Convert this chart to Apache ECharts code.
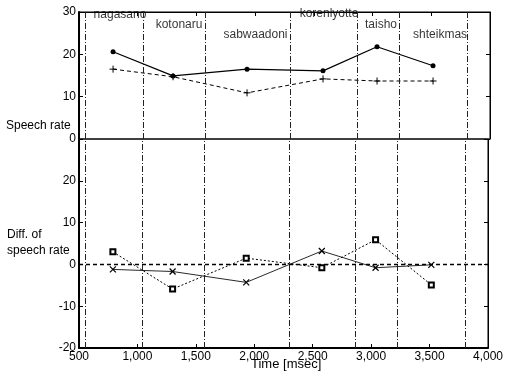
<!DOCTYPE html>
<html>
<head>
<meta charset="utf-8">
<script src="https://cdn.jsdelivr.net/npm/echarts@6/dist/echarts.min.js"></script>
<style>
html,body{margin:0;padding:0;background:#fff;}
#chart{width:506px;height:376px;}
</style>
</head>
<body>
<div id="chart"></div>
<script>
// ---- data ----
var times = [790, 1301, 1931, 2578, 3038, 3515];
var rateSolid = [20.6, 14.9, 16.5, 16.1, 21.8, 17.3];
var rateDashed = [16.5, 14.7, 10.9, 14.2, 13.7, 13.7];
var diffCross = [-1.2, -1.7, -4.3, 3.2, -0.8, -0.1];
var diffSquare = [3.0, -5.9, 1.5, -0.8, 5.9, -4.9];
var boundaries = [551, 1045, 1573, 2297, 2868, 3226, 3805];
var words = ['nagasano', 'kotonaru', 'sabwaadoni', 'korenlyotte', 'taisho', 'shteikmas'];
var wordX = [849, 1352, 2003, 2629, 3072, 3575];
var wordY = [29.4, 27.0, 24.6, 29.7, 27.0, 24.6];
var xTicks = [500, 1000, 1500, 2000, 2500, 3000, 3500, 4000];
var topTicks = [0, 10, 20, 30];
var bottomTicks = [-20, -10, 0, 10, 20, 30];

var FONT = 'Liberation Sans, Arial, sans-serif';
var chart = echarts.init(document.getElementById('chart'), null, {renderer: 'canvas'});

function pairs(xs, ys) { return xs.map(function (x, i) { return [x, ys[i]]; }); }
var plusSym = 'path://M0,5 L10,5 M5,0 L5,10';
var crossSym = 'path://M0,0 L10,10 M10,0 L0,10';
var vLines = boundaries.map(function (b) { return {xAxis: b}; });
var vLineStyle = {color: '#222', width: 1, type: [6, 2, 1, 2]};

function yAx(grid, min, max, pos, showLabel, hideTop) {
  return {
    type: 'value', gridIndex: grid, min: min, max: max, interval: 10, position: pos,
    axisLine: {show: true, lineStyle: {color: '#000', width: pos === 'left' ? 2 : 1}},
    axisTick: {show: true, inside: true, length: 4, lineStyle: {color: '#000'}},
    axisLabel: {show: showLabel, color: '#000', fontSize: 12, fontFamily: FONT, margin: 3,
      formatter: function (v) { return (hideTop && v === max) ? '' : String(v); }},
    splitLine: {show: false}
  };
}
function xAx(grid, pos, showLabel) {
  return {
    type: 'value', gridIndex: grid, min: xTicks[0], max: xTicks[xTicks.length - 1], interval: 500, position: pos,
    axisLine: {show: true, onZero: false, lineStyle: {color: '#000', width: pos === 'bottom' ? 2 : 1}},
    axisTick: {show: true, inside: true, length: 4, lineStyle: {color: '#000'}},
    axisLabel: {show: showLabel, color: '#000', fontSize: 12, fontFamily: FONT, margin: 3},
    splitLine: {show: false}
  };
}

var option = {
  animation: false,
  backgroundColor: '#fff',
  grid: [
    {left: 79, right: 16, top: 12, height: 127, show: true, borderColor: '#000', borderWidth: 1},
    {left: 79, right: 16, top: 139, bottom: 28, show: true, borderColor: '#000', borderWidth: 1}
  ],
  xAxis: [xAx(0, 'top', false), xAx(1, 'bottom', true)],
  yAxis: [
    yAx(0, 0, 30, 'left', true, false),
    yAx(0, 0, 30, 'right', false, false),
    yAx(1, -20, 30, 'left', true, true),
    yAx(1, -20, 30, 'right', false, true)
  ],
  graphic: [
    {type: 'text', left: 6, top: 120, style: {text: 'Speech rate', fill: '#000', font: '12px ' + FONT}},
    {type: 'text', left: 7, top: 229, style: {text: 'Diff. of', fill: '#000', font: '12px ' + FONT}},
    {type: 'text', left: 7, top: 245, style: {text: 'speech rate', fill: '#000', font: '12px ' + FONT}},
    {type: 'text', left: 251, top: 358, style: {text: 'Time [msec]', fill: '#000', font: '13px ' + FONT}}
  ],
  series: [
    {
      type: 'line', xAxisIndex: 0, yAxisIndex: 0, data: pairs(times, rateSolid),
      symbol: 'circle', symbolSize: 5, itemStyle: {color: '#000'},
      lineStyle: {color: '#000', width: 1.2, type: 'solid'},
      markLine: {silent: true, symbol: 'none', label: {show: false}, lineStyle: vLineStyle, data: vLines}
    },
    {
      type: 'line', xAxisIndex: 0, yAxisIndex: 0, data: pairs(times, rateDashed),
      symbol: plusSym, symbolSize: 7, itemStyle: {color: 'transparent', borderColor: '#000', borderWidth: 1},
      lineStyle: {color: '#000', width: 1, type: [4, 3]}
    },
    {
      type: 'scatter', xAxisIndex: 0, yAxisIndex: 0, symbolSize: 0, silent: true,
      data: words.map(function (w, i) { return {name: w, value: [wordX[i], wordY[i]]}; }),
      label: {show: true, position: 'inside', formatter: '{b}', color: '#000', fontSize: 12, fontFamily: FONT}
    },
    {
      type: 'line', xAxisIndex: 1, yAxisIndex: 2, data: pairs(times, diffCross),
      symbol: crossSym, symbolSize: 6, itemStyle: {color: 'transparent', borderColor: '#000', borderWidth: 1.2},
      lineStyle: {color: '#111', width: 0.9, type: 'solid'},
      markLine: {silent: true, symbol: 'none', label: {show: false}, data: [
        {yAxis: 0, lineStyle: {color: '#000', width: 1.3, type: [4, 3]}}
      ].concat(boundaries.map(function (b) { return {xAxis: b, lineStyle: vLineStyle}; }))}
    },
    {
      type: 'line', xAxisIndex: 1, yAxisIndex: 2, data: pairs(times, diffSquare),
      symbol: 'emptyRect', symbolSize: 5, itemStyle: {color: '#000', borderColor: '#000', borderWidth: 0.8},
      lineStyle: {color: '#000', width: 1, type: [2, 2]}
    }
  ]
};
chart.setOption(option);
</script>
</body>
</html>
